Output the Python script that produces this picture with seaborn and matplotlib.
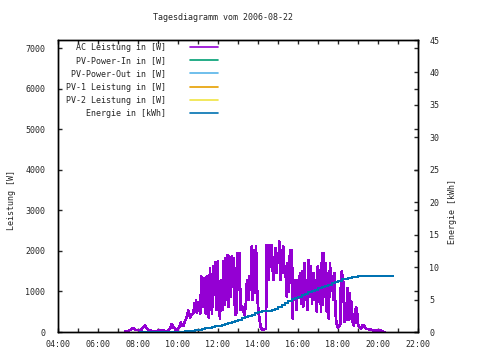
import matplotlib
matplotlib.use("Agg")
import matplotlib.pyplot as plt
import pandas as pd
import seaborn as sns

ac_time = ["07:21", "07:31", "07:38", "07:46", "07:53", "08:01", "08:08", "08:12", "08:16", "08:21",
           "08:26", "08:32", "08:38", "08:43", "08:51", "08:58", "09:02", "09:06", "09:11", "09:16",
           "09:21", "09:28", "09:33", "09:37", "09:41", "09:46", "09:51", "09:55", "09:59", "10:04",
           "10:08", "10:12", "10:16", "10:21", "10:26", "10:31", "10:36", "10:41", "10:46", "10:50",
           "10:52", "10:54", "10:57", "11:01", "11:04", "11:07", "11:10", "11:13", "11:16", "11:20",
           "11:23", "11:26", "11:29", "11:32", "11:36", "11:39", "11:42", "11:46", "11:49", "11:53",
           "11:56", "11:59", "12:02", "12:06", "12:09", "12:13", "12:16", "12:19", "12:22", "12:25",
           "12:28", "12:31", "12:34", "12:38", "12:41", "12:44", "12:48", "12:51", "12:55", "12:58",
           "13:01", "13:04", "13:08", "13:12", "13:16", "13:19", "13:23", "13:27", "13:31", "13:34",
           "13:38", "13:41", "13:44", "13:48", "13:51", "13:54", "13:58", "14:01", "14:03", "14:08",
           "14:11", "14:18", "14:24", "14:26", "14:29", "14:32", "14:34", "14:37", "14:40", "14:43",
           "14:46", "14:49", "14:52", "14:55", "14:58", "15:01", "15:04", "15:07", "15:10", "15:13",
           "15:16", "15:19", "15:22", "15:26", "15:29", "15:32", "15:36", "15:39", "15:42", "15:44",
           "15:46", "15:49", "15:52", "15:56", "15:59", "16:02", "16:06", "16:09", "16:12", "16:16",
           "16:19", "16:22", "16:26", "16:29", "16:32", "16:36", "16:39", "16:42", "16:46", "16:49",
           "16:52", "16:56", "16:59", "17:02", "17:06", "17:09", "17:12", "17:15", "17:17", "17:20",
           "17:23", "17:26", "17:29", "17:32", "17:36", "17:39", "17:42", "17:46", "17:50", "17:52",
           "17:55", "17:58", "18:01", "18:05", "18:07", "18:09", "18:11", "18:13", "18:16", "18:19",
           "18:22", "18:25", "18:28", "18:31", "18:34", "18:37", "18:40", "18:42", "18:45", "18:48",
           "18:51", "18:54", "18:57", "18:59", "19:02", "19:05", "19:09", "19:13", "19:17", "19:21",
           "19:26", "19:31", "19:39", "19:46", "19:56", "20:03", "20:09", "20:14", "20:21"]
ac_power = [10, 25, 58, 99, 49, 49, 25, 74, 123, 165,
            90, 49, 49, 10, 5, 5, 41, 10, 49, 41,
            10, 10, 58, 90, 190, 115, 82, 10, 74, 115,
            230, 165, 156, 270, 362, 527, 362, 420, 477, 708,
            502, 790, 477, 724, 642, 461, 1366, 831, 625, 1325,
            461, 1366, 831, 362, 1572, 872, 461, 1613, 914, 1720,
            543, 1737, 790, 337, 1284, 543, 1737, 667, 1819, 790,
            1901, 625, 1860, 872, 1860, 1119, 1819, 420, 461, 1942,
            1037, 1942, 543, 625, 543, 420, 625, 1284, 790, 1366,
            1037, 2107, 790, 2025, 955, 2107, 872, 543, 395, 132,
            66, 66, 82, 2148, 1695, 1284, 2148, 1613, 2148, 1695,
            1284, 1695, 2066, 1449, 1942, 1695, 2230, 1284, 2025, 1449,
            2107, 1531, 1613, 872, 1695, 996, 2025, 1202, 2025, 337,
            1037, 790, 1284, 543, 1284, 914, 1449, 708, 1490, 625,
            1695, 790, 1284, 543, 1778, 872, 1613, 708, 1449, 790,
            1284, 502, 1613, 749, 1531, 502, 1942, 667, 1942, 872,
            1695, 502, 1449, 337, 1695, 1037, 1366, 790, 1449, 560,
            220, 140, 110, 170, 210, 1407, 1490, 1407, 1202, 255,
            296, 379, 1078, 296, 955, 337, 749, 255, 255, 148,
            502, 601, 543, 214, 156, 115, 90, 156, 165, 115,
            74, 74, 58, 41, 41, 25, 33, 8, 0]

energy_time = ["08:06", "09:00", "10:00", "10:16", "10:21", "10:36", "10:51", "11:01", "11:11", "11:21",
               "11:31", "11:41", "11:51", "12:01", "12:11", "12:21", "12:31", "12:41", "12:51", "13:01",
               "13:11", "13:21", "13:31", "13:41", "13:51", "14:01", "14:11", "14:21", "14:31", "14:41",
               "14:51", "15:01", "15:11", "15:21", "15:31", "15:41", "15:51", "16:01", "16:11", "16:21",
               "16:31", "16:41", "16:51", "17:01", "17:11", "17:21", "17:31", "17:41", "17:51", "18:01",
               "18:11", "18:21", "18:31", "18:41", "18:51", "19:01", "19:31", "20:00", "20:46"]
energy_kwh = [0.0, 0.0, 0.02, 0.05, 0.15, 0.22, 0.3, 0.38, 0.46, 0.56,
              0.67, 0.77, 0.87, 1.0, 1.13, 1.28, 1.44, 1.6, 1.75, 1.92,
              2.1, 2.28, 2.47, 2.68, 2.88, 3.08, 3.2, 3.26, 3.3, 3.39,
              3.62, 3.9, 4.15, 4.42, 4.72, 5.03, 5.24, 5.44, 5.65, 5.86,
              6.1, 6.32, 6.52, 6.73, 6.94, 7.14, 7.32, 7.5, 7.7, 7.9,
              8.1, 8.22, 8.33, 8.42, 8.53, 8.56, 8.63, 8.63, 8.63]

series_labels = ["AC Leistung in [W]", "PV-Power-In in [W]", "PV-Power-Out in [W]",
                 "PV-1 Leistung in [W]", "PV-2 Leistung in [W]", "Energie in [kWh]"]
series_colors = ["#9400d3", "#009e73", "#56b4e9", "#e69f00", "#f0e442", "#0072b2"]

hour_ticks = list(range(4, 23, 2))
power_ticks = list(range(0, 8000, 1000))
energy_ticks = list(range(0, 50, 5))


def to_hours(t):
    h, m = t.split(":")
    return int(h) + int(m) / 60


ac = pd.DataFrame({"hour": [to_hours(t) for t in ac_time], "power": ac_power})
en = pd.DataFrame({"hour": [to_hours(t) for t in energy_time], "kwh": energy_kwh})

sns.set_style("ticks")
plt.rcParams["font.family"] = ["DejaVu Sans Mono"]
plt.rcParams["font.size"] = 6

fig = plt.figure(figsize=(4.8, 3.6), dpi=100)
ax = fig.add_axes([58 / 480, 28 / 360, 360 / 480, 292 / 360])
ax2 = ax.twinx()

# --- Kurven (ohne Antialiasing, wie gnuplot png) ---
sns.lineplot(data=ac, x="hour", y="power", ax=ax, color=series_colors[0], lw=1.2,
             estimator=None, sort=False, antialiased=False)
sns.lineplot(data=en, x="hour", y="kwh", ax=ax2, color=series_colors[5], lw=1.4,
             estimator=None, sort=False, drawstyle="steps-post", antialiased=False)

# Legendeneintraege (PV-Kurven ohne Daten an diesem Tag)
handles = []
for lab, col in zip(series_labels, series_colors):
    h, = ax2.plot([], [], color=col, lw=1.2, antialiased=False)
    handles.append(h)
ax2.legend(handles, series_labels, loc="upper right",
           bbox_to_anchor=((218 - 58) / 360, (332 - 43) / 292),
           frameon=False, markerfirst=False, handlelength=3.35, handletextpad=2.9,
           labelspacing=0.5, borderpad=0, borderaxespad=0, fontsize=6)

# --- Achsen ---
ax.set_xlim(4, 22)
ax.set_xticks(hour_ticks)
ax.set_xticklabels([f"{h:02d}:00" for h in hour_ticks])
ax.set_xticks(range(5, 22, 2), minor=True)
ax.set_ylim(0, 7200)
ax.set_yticks(power_ticks)
ax2.set_ylim(0, 45)
ax2.set_yticks(energy_ticks)

ax.tick_params(axis="x", which="both", direction="in", top=True, length=2.6, width=1, pad=6)
ax.tick_params(axis="y", which="both", direction="in", right=True, length=2.6, width=1, pad=9)
ax2.tick_params(axis="y", direction="in", length=2.6, width=1, pad=8)
for a in (ax, ax2):
    for s in a.spines.values():
        s.set_visible(True)
        s.set_linewidth(1.0)
        s.set_color("black")

ax.set_xlabel("")
ax.set_ylabel("Leistung [W]", va="center")
ax.yaxis.set_label_coords((11.5 - 58) / 360, (332 - 200) / 292)
ax2.set_ylabel("Energie [kWh]", va="center")
ax2.yaxis.set_label_coords((452 - 58) / 360, (332 - 211) / 292)

fig.text(223 / 480, 1 - 18 / 360, "Tagesdiagramm vom 2006-08-22", ha="center", va="center")

fig.savefig("out.png", dpi=100)
